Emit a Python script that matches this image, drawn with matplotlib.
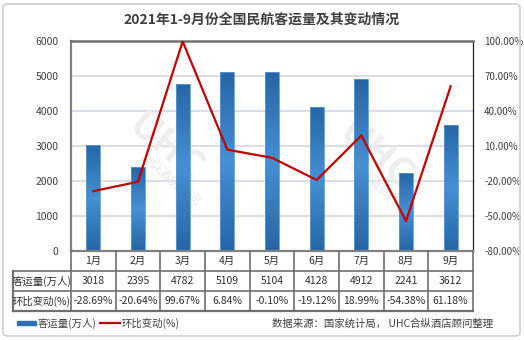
import numpy as np
import matplotlib.pyplot as plt
from matplotlib.patches import FancyBboxPatch
from matplotlib.colors import LinearSegmentedColormap

plt.rcParams['font.family'] = ['Noto Sans CJK SC', 'DejaVu Sans']

months = ['1月', '2月', '3月', '4月', '5月', '6月', '7月', '8月', '9月']
passengers = [3018, 2395, 4782, 5109, 5104, 4128, 4912, 2241, 3612]
change_pct = [-28.69, -20.64, 99.67, 6.84, -0.10, -19.12, 18.99, -54.38, 61.18]
change_labels = ['-28.69%', '-20.64%', '99.67%', '6.84%', '-0.10%',
                 '-19.12%', '18.99%', '-54.38%', '61.18%']

W, H = 524, 340
fig = plt.figure(figsize=(W / 100, H / 100), dpi=100)

def fx(px):
    return px / W

def fy(py):
    return 1 - py / H

# outer frame
fig.patches.append(FancyBboxPatch((fx(3), fy(336)), fx(517), fy(4) - fy(336),
                                  boxstyle='round,pad=0,rounding_size=0.01',
                                  transform=fig.transFigure, fill=False,
                                  ec='#d0d0d0', lw=1.2))

fig.text(0.5, fy(20), '2021年1-9月份全国民航客运量及其变动情况', ha='center',
         va='center', fontsize=10, fontweight='bold', color='#404040')

left, right, top, bottom = 71, 473, 41, 251
ax = fig.add_axes([fx(left), fy(bottom), fx(right) - fx(left), fy(top) - fy(bottom)])
x = np.arange(len(months))
ax.set_yticks(range(0, 6001, 1000))
ax.tick_params(axis='y', length=0, labelsize=7.5, colors='#404040', pad=9)
ax.set_xticks([])
for v in range(1000, 6000, 1000):
    ax.axhline(v, color='#d3d7e3', lw=1.2, zorder=0)

# faint watermark behind the bars
for cx, cy in [(165, 160), (375, 168)]:
    ax.text(fx(cx), fy(cy - 12), 'UHC', ha='center', va='center', fontsize=28,
            fontweight='bold', style='italic', rotation=-40, color='#eeeeee',
            transform=fig.transFigure, zorder=0.5)
    ax.text(fx(cx + 4), fy(cy + 20), '合纵酒店顾问', ha='center', va='center',
            fontsize=9, rotation=-40, color='#e8e8e8',
            transform=fig.transFigure, zorder=0.5)

# bars with a vertical gradient (dark - light - dark)
cmap = LinearSegmentedColormap.from_list('bar', ['#2766a6', '#4690d4', '#2766a6'])
grad = np.linspace(0, 1, 64).reshape(-1, 1)
bw = 0.31
bars = ax.bar(x, passengers, width=bw, color='none', ec='#5a9ad6', lw=0.6, zorder=2)
for b in bars:
    img = ax.imshow(grad, cmap=cmap, aspect='auto', zorder=1.9,
                    extent=[b.get_x(), b.get_x() + b.get_width(), 0, b.get_height()])
    img.set_clip_path(b)
ax.set_xlim(-0.5, len(months) - 0.5)
ax.set_ylim(0, 6000)

for s in ['left', 'bottom']:
    ax.spines[s].set_color('#808080')
    ax.spines[s].set_linewidth(1.6)
ax.spines['top'].set_color('#707070')
ax.spines['top'].set_linewidth(1.8)
ax.spines['right'].set_color('#202020')
ax.spines['right'].set_linewidth(0.9)

ax2 = ax.twinx()
ax2.set_ylim(-80, 100)
ax2.set_yticks(range(-80, 101, 30))
ax2.set_yticklabels(['%.2f%%' % v for v in range(-80, 101, 30)])
ax2.tick_params(axis='y', length=0, labelsize=7, colors='#404040', pad=8)
ax2.plot(x, change_pct, color='#c00000', lw=1.6, zorder=3)
for s in ax2.spines.values():
    s.set_visible(False)

# data table under the chart
tab = fig.add_axes([0, 0, 1, 1], facecolor='none')
tab.set_xlim(0, W)
tab.set_ylim(H, 0)
tab.axis('off')
col_w = (right - left) / len(months)
row_y = [251, 271, 291, 311]
lc = '#707070'
tab.plot([13, right], [271, 271], color=lc, lw=1.2)
tab.plot([13, right], [291, 291], color=lc, lw=1.2)
tab.plot([13, right], [311, 311], color=lc, lw=1.6)
tab.plot([13, 13], [271, 311], color=lc, lw=1.6)
for i in range(len(months) + 1):
    xx = left + i * col_w
    tab.plot([xx, xx], [251, 311], color=lc, lw=1.2)

rows = [months, [str(v) for v in passengers], change_labels]
for r, vals in enumerate(rows):
    yc = (row_y[r] + row_y[r + 1]) / 2
    for i, v in enumerate(vals):
        tab.text(left + (i + 0.5) * col_w, yc, v, ha='center', va='center',
                 fontsize=7.5, color='#303030')
tab.text(42, 281, '客运量(万人)', ha='center', va='center', fontsize=7.5, color='#303030')
tab.text(42, 301, '环比变动(%)', ha='center', va='center', fontsize=7.5, color='#303030')

# legend and source
tab.add_patch(plt.Rectangle((17, 321), 19, 4, color='#2e70b4'))
tab.text(38, 323, '客运量(万人)', ha='left', va='center', fontsize=7.5, color='#404040')
tab.plot([100, 120], [323, 323], color='#c00000', lw=1.6)
tab.text(122, 323, '环比变动(%)', ha='left', va='center', fontsize=7.5, color='#404040')
tab.text(493, 324, '数据来源：国家统计局， UHC合纵酒店顾问整理', ha='right', va='center',
         fontsize=7.5, color='#404040')

fig.savefig('out.png', dpi=100)
